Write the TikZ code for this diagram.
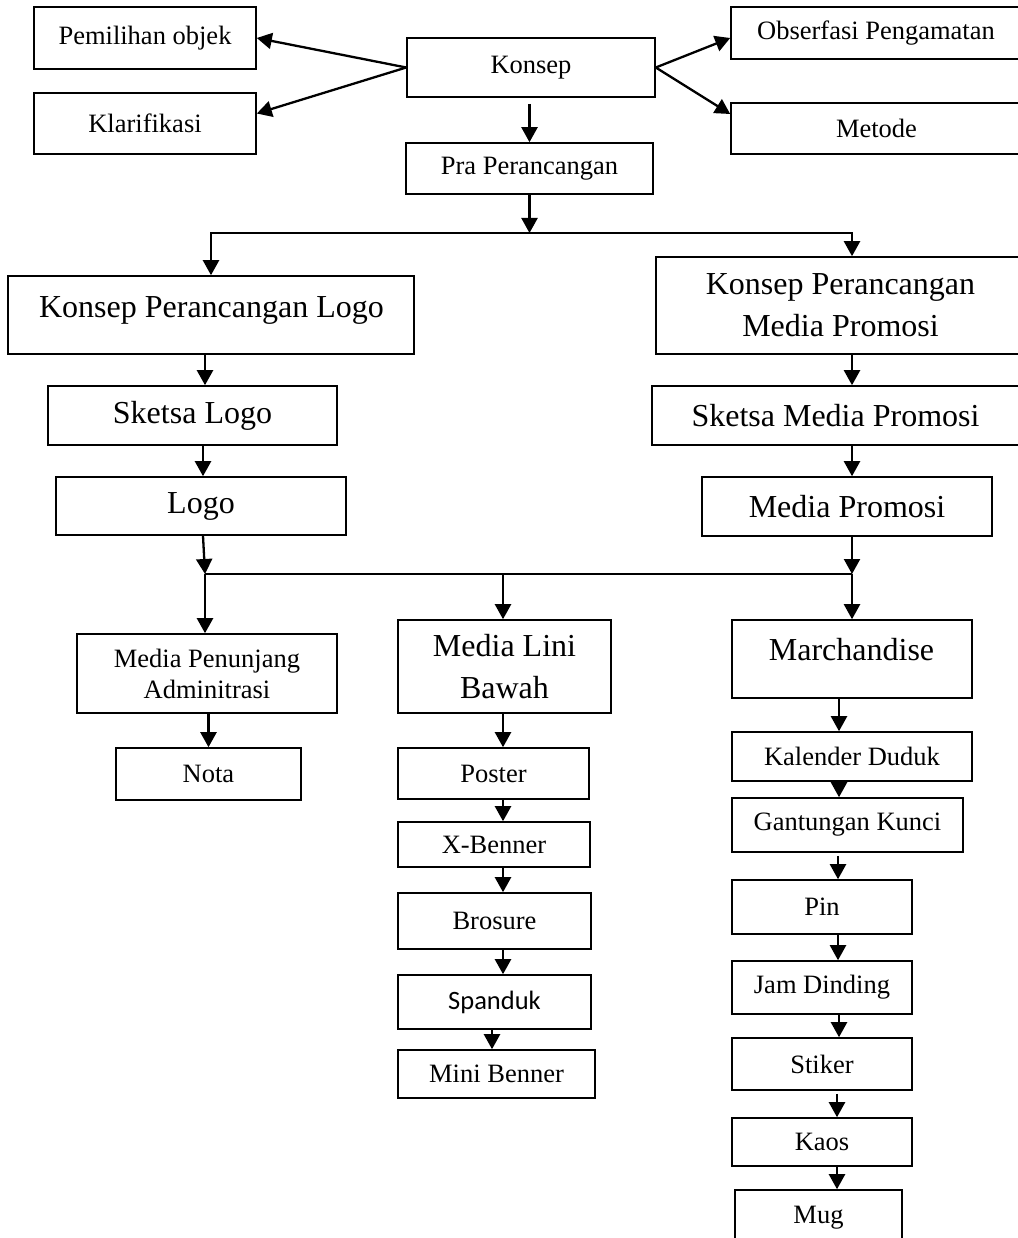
\documentclass[tikz,border=0pt]{standalone}
\usepackage{fontspec}
\setmainfont{Liberation Serif}
\newfontfamily\calib{Carlito}
\usetikzlibrary{arrows.meta}
\newcommand\smallf{\fontsize{26.5pt}{31pt}\selectfont}
\newcommand\largef{\fontsize{32pt}{42pt}\selectfont}
\tikzset{
  box/.style={draw, line width=1.6pt, inner sep=0pt, align=center, font=\smallf},
  bigbox/.style={box, font=\largef},
  arr/.style={line width=2.3pt, -{Triangle[length=15pt,width=16pt]}},
  ln/.style={line width=2pt},
  lbl/.style={inner sep=0pt, anchor=base, font=\largef}
}
\begin{document}
\begin{tikzpicture}[x=1pt,y=-1pt]
\useasboundingbox (0,0) rectangle (1017,1238);
% top level
\node[box, minimum width=222pt, minimum height=62pt] (pem) at (145,38) {Pemilihan objek};
\node[box, minimum width=222pt, minimum height=61pt] (klar) at (145,123.5) {Klarifikasi};
\node[box, minimum width=248pt, minimum height=59pt] (konsep) at (531,67.5) {Konsep};
\node[box, minimum width=290pt, minimum height=52pt] (obs) at (876,33) {Obserfasi Pengamatan};
\node[box, minimum width=291pt, minimum height=51pt] (metode) at (876.5,128.5) {Metode};
\node[box, minimum width=247pt, minimum height=51pt] (pra) at (529.5,168.5) {Pra Perancangan};
% second level
\node[box, minimum width=406pt, minimum height=78pt] (kpl) at (211,315) {};
\node[lbl] (kpltxt) at (211.5,317) {Konsep Perancangan Logo};
\node[bigbox, minimum width=369pt, minimum height=97pt] (kpmp) at (840.5,305.5) {Konsep Perancangan\\Media Promosi};
\node[bigbox, minimum width=289pt, minimum height=59pt] (sl) at (192.5,415.5) {Sketsa Logo};
\node[bigbox, minimum width=367pt, minimum height=59pt] (smp) at (835.5,415.5) {Sketsa Media Promosi};
\node[bigbox, minimum width=290pt, minimum height=58pt] (logo) at (201,506) {Logo};
\node[bigbox, minimum width=290pt, minimum height=59pt] (mp) at (847,506.5) {Media Promosi};
% third level
\node[box, minimum width=260pt, minimum height=79pt] (mpa) at (207,673.5) {Media Penunjang\\Adminitrasi};
\node[bigbox, minimum width=213pt, minimum height=93pt] (mlb) at (504.5,666.5) {Media Lini\\Bawah};
\node[box, minimum width=240pt, minimum height=78pt] (march) at (852,659) {};
\node[lbl] (marchtxt) at (851.5,660) {Marchandise};
\node[box, minimum width=185pt, minimum height=52pt] (nota) at (208.5,774) {Nota};
% middle column
\node[box, minimum width=191pt, minimum height=51pt] (poster) at (493.5,773.5) {Poster};
\node[box, minimum width=192pt, minimum height=45pt] (xb) at (494,844.5) {X-Benner};
\node[box, minimum width=193pt, minimum height=56pt] (bro) at (494.5,921) {Brosure};
\node[box, minimum width=193pt, minimum height=54pt, font=\smallf\calib] (spa) at (494.5,1002) {Spanduk};
\node[box, minimum width=197pt, minimum height=48pt] (mini) at (496.5,1074) {Mini Benner};
% right column
\node[box, minimum width=240pt, minimum height=49pt] (kal) at (852,756.5) {Kalender Duduk};
\node[box, minimum width=231pt, minimum height=54pt] (gan) at (847.5,825) {Gantungan Kunci};
\node[box, minimum width=180pt, minimum height=54pt] (pin) at (822,907) {Pin};
\node[box, minimum width=180pt, minimum height=53pt] (jam) at (822,987.5) {Jam Dinding};
\node[box, minimum width=180pt, minimum height=52pt] (sti) at (822,1064) {Stiker};
\node[box, minimum width=180pt, minimum height=48pt] (kaos) at (822,1142) {Kaos};
\node[box, minimum width=167pt, minimum height=55pt] (mug) at (818.5,1217.5) {Mug};
% helper coordinates
\coordinate (j1) at (529.5,233);
\coordinate (rx) at (852,0);
\coordinate (lx1) at (205,0);
\coordinate (lx2) at (203,0);
\coordinate (j2) at (205,574);
\coordinate (j3) at (852,574);
\coordinate (mx) at (503,0);
\coordinate (mx2) at (492,0);
\coordinate (cx1) at (839,0);
\coordinate (cx2) at (838,0);
\coordinate (cx3) at (837,0);
% top connectors
\draw[arr] (konsep.west) -- (pem.east);
\draw[arr] (konsep.west) -- ([yshift=10pt]klar.east);
\draw[arr] (konsep.east) -- ([yshift=-5pt]obs.west);
\draw[arr] (konsep.east) -- ([yshift=14.5pt]metode.west);
\draw[arr, shorten <=6pt] (konsep.south -| pra.north) -- (pra.north);
\draw[arr] (pra.south) -- (j1);
\draw[arr] (j1) -| (kpl.north);
\draw[arr] (j1) -| (kpmp.north -| rx);
% left/right chains
\draw[arr] (kpl.south -| lx1) -- (sl.north -| lx1);
\draw[arr] (sl.south -| lx2) -- (logo.north -| lx2);
\draw[arr] (logo.south -| lx2) -- (j2);
\draw[arr] (kpmp.south -| rx) -- (smp.north -| rx);
\draw[arr] (smp.south -| rx) -- (mp.north -| rx);
\draw[arr] (mp.south -| rx) -- (j3);
% branch line
\draw[ln] (j2) -- (j3);
\draw[arr] (j2) -- (mpa.north -| j2);
\draw[arr] (j2 -| mx) -- (mlb.north -| mx);
\draw[arr] (j3) -- (march.north -| j3);
% third level chains
\draw[arr] (mpa.south -| nota.north) -- (nota.north);
\draw[arr] (mlb.south -| mx) -- (poster.north -| mx);
\draw[arr] (poster.south -| mx) -- (xb.north -| mx);
\draw[arr] (xb.south -| mx) -- (bro.north -| mx);
\draw[arr] (bro.south -| mx) -- (spa.north -| mx);
\draw[arr] (spa.south -| mx2) -- (mini.north -| mx2);
\draw[arr] (march.south -| cx1) -- (kal.north -| cx1);
\draw[arr] (kal.south -| cx1) -- (gan.north -| cx1);
\draw[arr, shorten <=3pt] (gan.south -| cx2) -- (pin.north -| cx2);
\draw[arr] (pin.south -| cx2) -- (jam.north -| cx2);
\draw[arr] (jam.south -| cx1) -- (sti.north -| cx1);
\draw[arr, shorten <=3pt] (sti.south -| cx3) -- (kaos.north -| cx3);
\draw[arr] (kaos.south -| cx3) -- (mug.north -| cx3);
\end{tikzpicture}
\end{document}
